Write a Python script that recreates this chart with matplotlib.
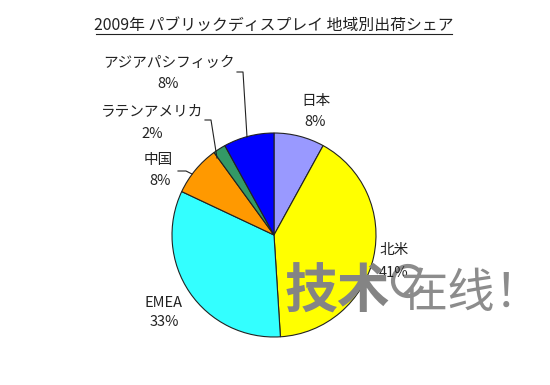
import matplotlib
matplotlib.use("Agg")
import matplotlib.pyplot as plt
from matplotlib.patches import Arc

plt.rcParams['font.family'] = ['Noto Sans CJK JP', 'DejaVu Sans']

# data
categories = ['日本', '北米', 'EMEA', '中国', 'ラテンアメリカ', 'アジアパシフィック']
shares = [8, 41, 33, 8, 2, 8]
colors = ['#9999FF', '#FFFF00', '#33FFFF', '#FF9900', '#339966', '#0000FF']
title = '2009年 パブリックディスプレイ 地域別出荷シェア'

W, H = 550, 385
fig = plt.figure(figsize=(5.5, 3.85), dpi=100)
ax = fig.add_axes([0, 0, 1, 1])

cx, cy, r = 274, H - 235, 102
ax.pie(shares, colors=colors, startangle=90, counterclock=False,
       center=(cx, cy), radius=r,
       wedgeprops=dict(edgecolor='#222222', linewidth=0.8))
ax.set_xlim(0, W)
ax.set_ylim(0, H)
ax.set_aspect('equal')
ax.axis('off')

# label layout (image pixel coords: name centre, pct centre)
label_pos = [((316, 101), (315, 122)),
             ((394, 250), (394, 273)),
             ((164, 303), (164, 322)),
             ((158, 160), (160, 181)),
             ((152, 111), (152, 134)),
             ((169, 63), (168, 84))]
fs = 10.5
for cat, val, (npos, ppos) in zip(categories, shares, label_pos):
    ax.text(npos[0], H - npos[1], cat, ha='center', va='center', fontsize=fs, color='#222222')
    ax.text(ppos[0], H - ppos[1], f'{val}%', ha='center', va='center', fontsize=fs, color='#222222')

# leader lines
leaders = [[(237, 72), (243, 72), (247, 137)],
           [(205, 120), (211, 120), (217, 158)],
           [(178, 171), (186, 171), (192, 174)]]
for pts in leaders:
    ax.plot([p[0] for p in pts], [H - p[1] for p in pts], color='#222222', lw=0.8)

# title
ax.text(W / 2 - 1, H - 25, title, ha='center', va='center', fontsize=11.4, color='#222222')
ax.plot([96, 452], [H - 34, H - 34], color='#222222', lw=0.8)

# watermark
ax.text(337, H - 292, '技术', ha='center', va='center', fontsize=38, fontweight='bold',
        color='#848484', family=['Noto Sans CJK SC', 'DejaVu Sans'])
ax.text(400, H - 294, '在线！', ha='left', va='center', fontsize=34,
        color='#8c8c8c', family=['Noto Sans CJK SC', 'DejaVu Sans'])
ax.add_patch(Arc((408, H - 281), 30, 30, theta1=40, theta2=340, color='#8c8c8c', lw=3))

fig.savefig('out.png', dpi=100, facecolor='white')
